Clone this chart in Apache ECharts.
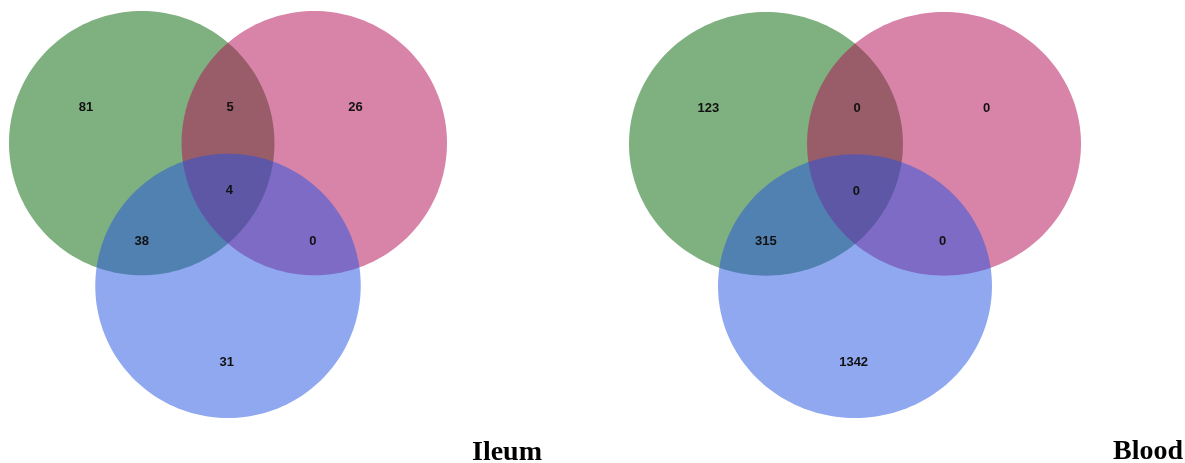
<!DOCTYPE html>
<html>
<head>
<meta charset="utf-8">
<script src="https://cdn.jsdelivr.net/npm/echarts@6/dist/echarts.min.js"></script>
<style>
html,body{margin:0;padding:0;background:#fff;}
#chart{width:1185px;height:463px;}
</style>
</head>
<body>
<div id="chart"></div>
<script>
// ---- data ----
const panelTitles = ['Ileum', 'Blood'];
const regionKeys = ['A', 'B', 'C', 'AB', 'AC', 'BC', 'ABC'];
const ileumCounts = [81, 26, 31, 5, 38, 0, 4];
const bloodCounts = [123, 0, 1342, 0, 315, 0, 0];
const panelCounts = [ileumCounts, bloodCounts];

// ---- layout (unit circle geometry) ----
const circleGeom = [[-0.65, 0.54, 1], [0.65, 0.54, 1], [0, -0.54, 1]];
const circleColors = ['rgba(0,98,0,0.5)', 'rgba(178,9,82,0.5)', 'rgba(34,82,226,0.5)'];
const labelPos = {
  A: [-1.07, 0.81], B: [0.96, 0.81], C: [-0.01, -1.12],
  AB: [0.015, 0.81], AC: [-0.65, -0.2], BC: [0.64, -0.2], ABC: [0.01, 0.18]
};
const grids = [
  { left: 9, top: 11, width: 438, height: 407 },
  { left: 629, top: 12, width: 452, height: 406 }
];
const titlePos = [{ left: 472, top: 439 }, { left: 1113, top: 438 }];

const chart = echarts.init(document.getElementById('chart'));
const xAxes = [], yAxes = [], series = [], titles = [];
grids.forEach((g, i) => {
  xAxes.push({ type: 'value', gridIndex: i, min: -1.65, max: 1.65, show: false });
  yAxes.push({ type: 'value', gridIndex: i, min: -1.54, max: 1.54, show: false });
  series.push({
    type: 'custom', xAxisIndex: i, yAxisIndex: i, clip: false, silent: true,
    data: circleGeom,
    renderItem: function (params, api) {
      const cx = api.value(0), cy = api.value(1), r = api.value(2);
      const pts = [];
      for (let k = 0; k < 180; k++) {
        const t = k / 180 * Math.PI * 2;
        pts.push(api.coord([cx + r * Math.cos(t), cy + r * Math.sin(t)]));
      }
      return { type: 'polygon', shape: { points: pts }, style: { fill: circleColors[params.dataIndex], stroke: null } };
    }
  });
  series.push({
    type: 'custom', xAxisIndex: i, yAxisIndex: i, clip: false, silent: true, z: 5,
    data: regionKeys.map((k, j) => [labelPos[k][0], labelPos[k][1], panelCounts[i][j]]),
    renderItem: function (params, api) {
      const p = api.coord([api.value(0), api.value(1)]);
      return {
        type: 'text', x: p[0], y: p[1],
        style: { text: String(api.value(2)), fill: '#111', font: 'bold 13px "Liberation Sans", Arial, sans-serif', align: 'center', verticalAlign: 'middle' }
      };
    }
  });
  titles.push({
    text: panelTitles[i], left: titlePos[i].left, top: titlePos[i].top, padding: 0,
    textStyle: { fontFamily: '"Liberation Serif", "Times New Roman", serif', fontWeight: 'bold', fontSize: 28, color: '#000' }
  });
});

chart.setOption({
  backgroundColor: '#fff',
  animation: false,
  title: titles,
  grid: grids,
  xAxis: xAxes,
  yAxis: yAxes,
  series: series
});
</script>
</body>
</html>
